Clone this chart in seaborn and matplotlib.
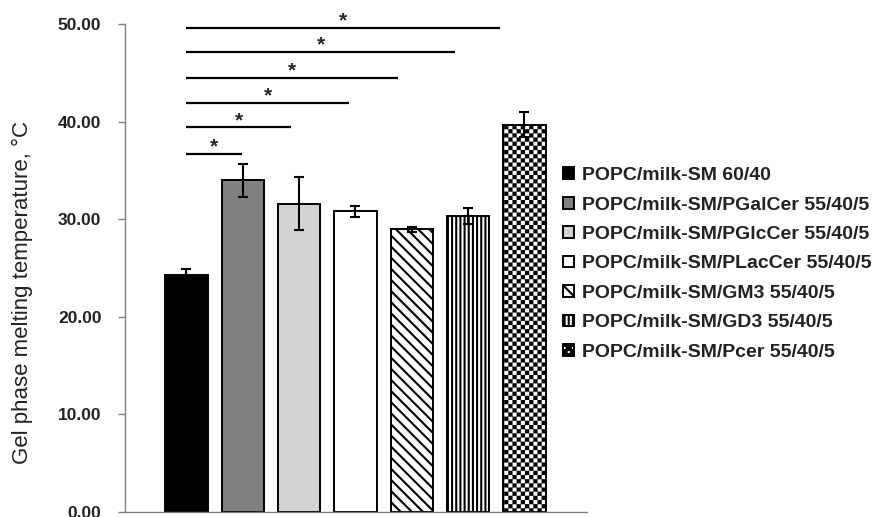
import numpy as np
import pandas as pd
import matplotlib
matplotlib.use("Agg")
import matplotlib.pyplot as plt
import matplotlib.hatch as mhatch
from matplotlib.path import Path
import seaborn as sns

# ---------------- data ----------------
categories = [
    "POPC/milk-SM 60/40",
    "POPC/milk-SM/PGalCer 55/40/5",
    "POPC/milk-SM/PGlcCer 55/40/5",
    "POPC/milk-SM/PLacCer 55/40/5",
    "POPC/milk-SM/GM3 55/40/5",
    "POPC/milk-SM/GD3 55/40/5",
    "POPC/milk-SM/Pcer 55/40/5",
]
values = [24.3, 34.0, 31.6, 30.8, 28.95, 30.35, 39.7]
errors = [0.55, 1.7, 2.7, 0.55, 0.25, 0.8, 1.25]
face_colors = ["#000000", "#808080", "#d3d3d3", "#ffffff", "#ffffff", "#ffffff", "#ffffff"]
hatches = [None, None, None, None, "\\\\\\", "||||", "*"]
# significance comparisons: (from index, to index, bracket height)
sig_pairs = [(0, 1, 36.7), (0, 2, 39.4), (0, 3, 41.9), (0, 4, 44.5), (0, 5, 47.1), (0, 6, 49.6)]
sig_ends = [0.98, 1.85, 2.89, 3.76, 4.77, 5.57]
y_ticks = [0, 10, 20, 30, 40, 50]


# ---------------- checkerboard hatch (texture) ----------------
class CheckerHatch(mhatch.HatchPatternBase):
    filled = True

    def __init__(self, hatch, density):
        k = hatch.count("*")
        self.n = 24 * k
        if k:
            self.cells = [(i, j) for i in range(self.n) for j in range(self.n)
                          if (i + j) % 2 == 0]
        else:
            self.cells = []
        self.num_vertices = len(self.cells) * 5

    def set_vertices_and_codes(self, vertices, codes):
        s = 1.0 / self.n
        for idx, (i, j) in enumerate(self.cells):
            x0, y0 = i * s, j * s
            x1, y1 = (i + 1) * s, (j + 1) * s
            b = idx * 5
            vertices[b:b + 5] = [(x0, y0), (x1, y0), (x1, y1), (x0, y1), (x0, y0)]
            codes[b] = Path.MOVETO
            codes[b + 1:b + 4] = Path.LINETO
            codes[b + 4] = Path.CLOSEPOLY


mhatch._hatch_types = [t for t in mhatch._hatch_types if t is not mhatch.Stars] + [CheckerHatch]

# ---------------- style ----------------
sns.set_theme(style="white")
plt.rcParams["font.family"] = ["Liberation Sans", "DejaVu Sans"]
plt.rcParams["hatch.linewidth"] = 1.5
plt.rcParams["hatch.color"] = "black"

fig = plt.figure(figsize=(8.75, 5.17), dpi=100)
ax = fig.add_axes([125 / 875, 5 / 517, (587 - 125) / 875, (512 - 24) / 517])

df = pd.DataFrame({"cat": categories, "val": values})
sns.barplot(data=df, x="cat", y="val", hue="cat", palette=face_colors,
            order=categories, hue_order=categories, dodge=False,
            width=0.75, edgecolor="black", linewidth=1.4, saturation=1,
            legend=False, ax=ax)

handles = []
centers = []
for cont, h in zip(ax.containers, hatches):
    for p in cont.patches:
        if h:
            p.set_hatch(h)
            if h == "*" and hasattr(p, "set_hatch_linewidth"):
                p.set_hatch_linewidth(0.1)
        centers.append(p.get_x() + p.get_width() / 2)
        handles.append(p)

ax.errorbar(centers, values, yerr=errors, fmt="none", ecolor="black",
            elinewidth=1.5, capsize=3.5, capthick=1.5, zorder=5)

# significance brackets
for (i, j, yv), xe in zip(sig_pairs, sig_ends):
    ax.plot([centers[i], xe], [yv, yv], color="black", lw=1.6, clip_on=False,
            solid_capstyle="butt")
    ax.text((centers[i] + xe) / 2, yv + 0.15, "*", ha="center", va="baseline",
            fontsize=15, fontweight="bold", clip_on=False)

ax.set_xlim(-1.09, 7.11)
ax.set_ylim(0, 50)
ax.set_yticks(y_ticks)
ax.set_yticklabels([f"{t:.2f}" for t in y_ticks], fontsize=12.5, fontweight="bold")
ax.set_xticks([])
ax.set_xlabel("")
ax.set_ylabel("Gel phase melting temperature, °C", fontsize=16, color="#222222")
ax.yaxis.set_label_coords(-0.200, 0.449)
ax.tick_params(axis="y", left=True, length=5, width=1, color="#808080", pad=12,
               labelcolor="#222222")
for s in ["top", "right"]:
    ax.spines[s].set_visible(False)
for s in ["left", "bottom"]:
    ax.spines[s].set_color("#808080")
    ax.spines[s].set_linewidth(1.0)

leg = fig.legend(handles, categories, loc="center left",
                 bbox_to_anchor=(563 / 875, 1 - 264 / 517), frameon=False,
                 prop={"weight": "bold", "size": 14}, handlelength=0.55,
                 handleheight=0.55, handletextpad=0.45, labelspacing=0.64,
                 borderpad=0, borderaxespad=0)
for t in leg.get_texts():
    t.set_color("#222222")

fig.savefig("out.png", dpi=100)
